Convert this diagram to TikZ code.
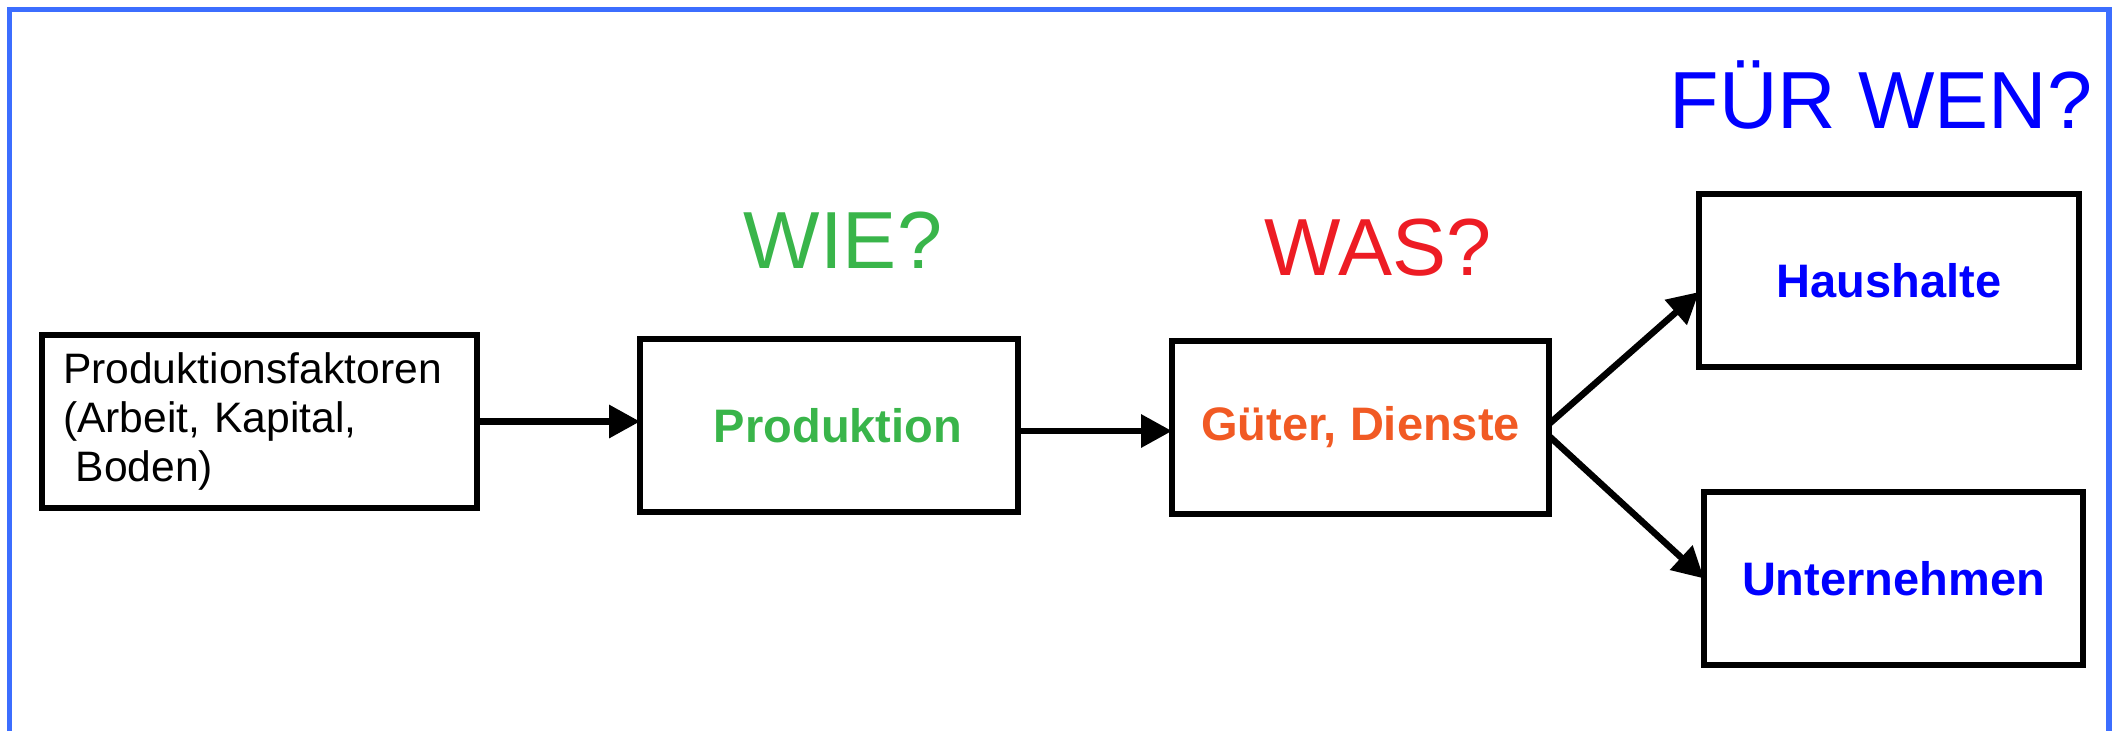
\documentclass[tikz,border=0pt]{standalone}
\usepackage{fontspec}
\setmainfont{Liberation Sans}
\usetikzlibrary{arrows.meta,calc}
\definecolor{framecol}{RGB}{60,110,255}
\definecolor{wiegreen}{RGB}{57,181,74}
\definecolor{wasred}{RGB}{237,28,36}
\definecolor{gutorange}{RGB}{241,90,36}
\definecolor{wenblue}{RGB}{0,0,255}
\begin{document}
\begin{tikzpicture}[x=1pt,y=-1pt,
  box/.style={draw=black, line width=6.8pt, minimum height=173pt, outer sep=0pt, inner sep=0pt},
  lbl/.style={font=\bfseries\fontsize{47}{56}\selectfont},
  quest/.style={font=\fontsize{81}{97}\selectfont, inner sep=0pt, anchor=base},
  arr/.style={line width=6.5pt, -{Triangle[length=31pt,width=32pt]}}]
\useasboundingbox (0,0) rectangle (2117,731);
\draw[framecol, line width=5.5pt] (9.5,731) -- (9.5,9.5) -- (2109,9.5) -- (2109,731);

\node[quest, text=wiegreen] (wie) at (843,268) {WIE?};
\node[quest, text=wasred] (was) at (1378,275) {WAS?};
\node[quest, text=wenblue] (wen) at (1881,128) {FÜR WEN?};

\node[box, minimum width=435pt, text width=393pt, inner xsep=21pt, align=left,
      font=\fontsize{42.6}{49}\selectfont] (fak) at (259.5,421.5)
      {Produktionsfaktoren\\(Arbeit, Kapital,\\\hspace*{0.3em}Boden)};
\node[box, minimum width=378pt, lbl, text=wiegreen] (prod) at (829,425.5) {\hspace*{18pt}Produktion};
\node[box, minimum width=377pt, lbl, text=gutorange] (gut) at (1360.5,427.5) {Güter, Dienste};
\node[box, minimum width=380pt, lbl, text=wenblue] (haus) at (1889,280.5) {Haushalte};
\node[box, minimum width=379pt, lbl, text=wenblue] (unt) at (1893.5,578.5) {Unternehmen};

\draw[arr] (fak.east) -- (fak.east -| prod.west);
\draw[arr] ($(prod.east)+(0,5.5)$) -- ($(prod.east -| gut.west)+(0,5.5)$);
\draw[arr] ($(gut.east)+(0,-3.5)$) -- ($(haus.west)+(0,11.5)$);
\draw[arr] ($(gut.east)+(0,8.5)$) -- (unt.west);
\end{tikzpicture}
\end{document}
